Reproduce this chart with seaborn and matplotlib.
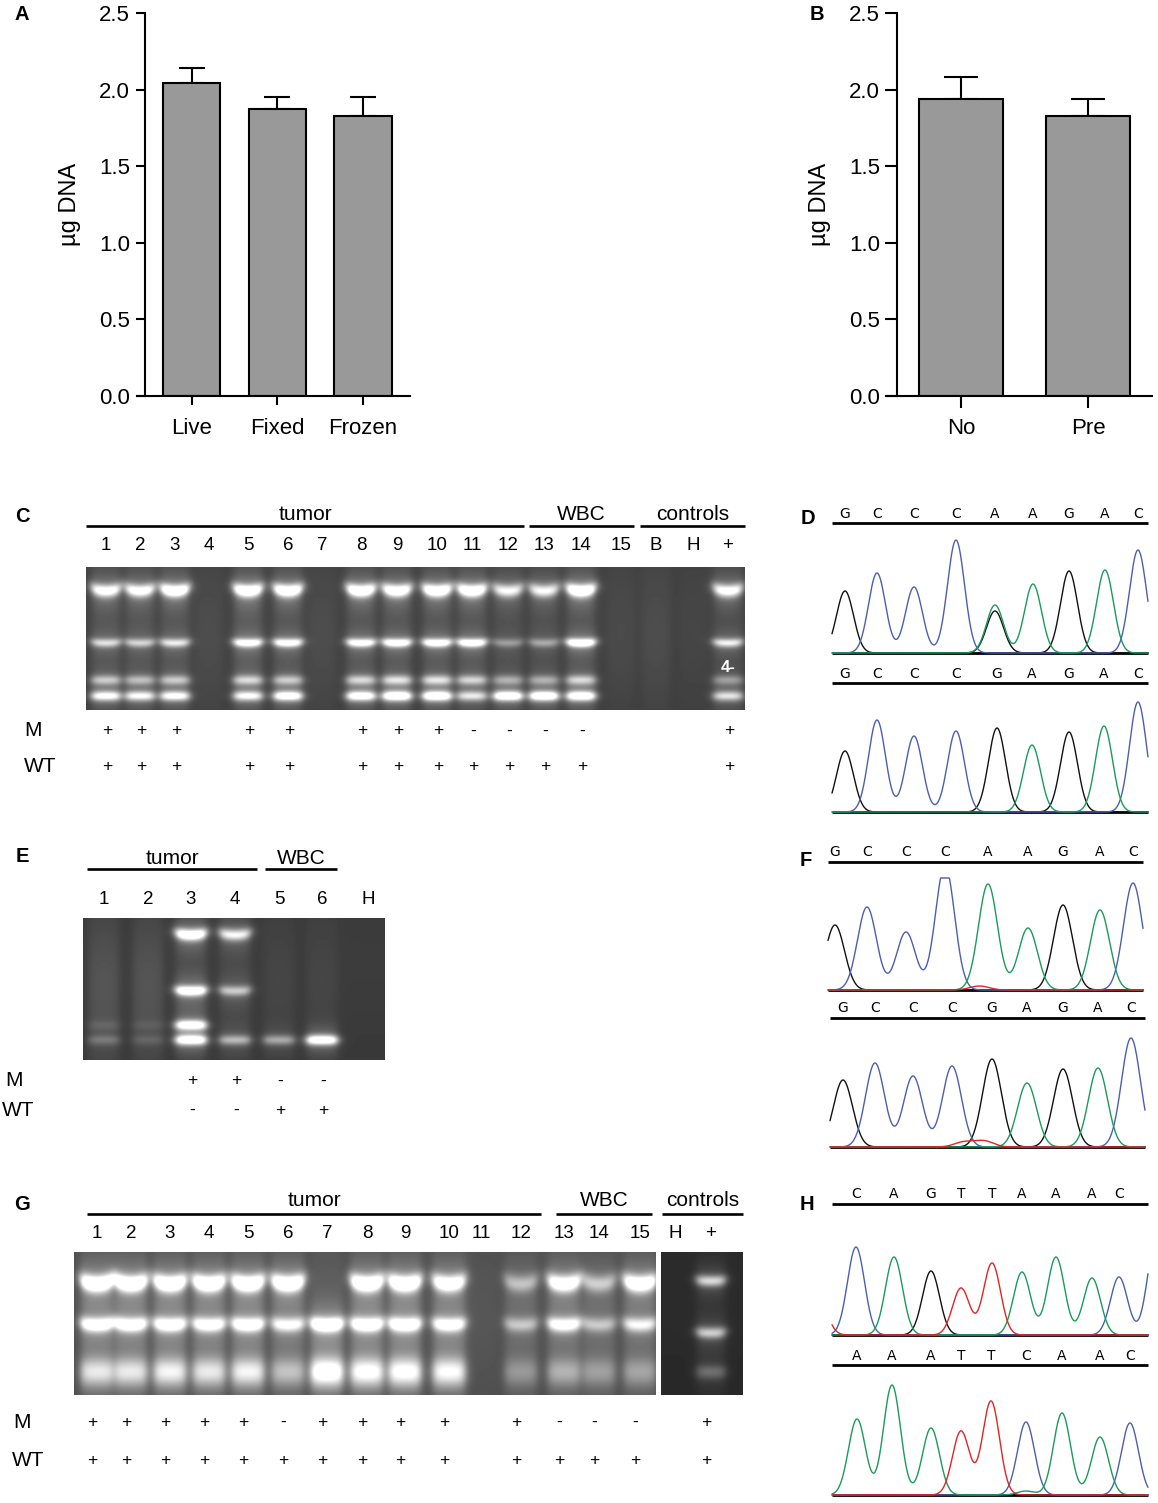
import numpy as np
import matplotlib
matplotlib.use("Agg")
import matplotlib.pyplot as plt
import seaborn as sns

# ---------------- data ----------------
A_groups = ["Live", "Fixed", "Frozen"]
A_mean = [2.04, 1.875, 1.83]
A_sem = [0.10, 0.075, 0.12]

B_groups = ["No", "Pre"]
B_mean = [1.94, 1.83]
B_sem = [0.14, 0.11]

C_lanes = ["1", "2", "3", "4", "5", "6", "7", "8", "9", "10", "11", "12", "13", "14", "15", "B", "H", "+"]
C_top = [0.8, 0.8, 0.95, 0, 0.95, 0.95, 0, 0.95, 0.9, 0.95, 0.95, 0.7, 0.7, 1.0, 0, 0, 0, 0.8]
C_mid = [0.55, 0.5, 0.6, 0, 0.8, 0.8, 0, 0.8, 0.85, 0.85, 0.85, 0.3, 0.35, 0.95, 0, 0, 0, 0.65]
C_low1 = [0.45, 0.4, 0.45, 0, 0.5, 0.45, 0, 0.5, 0.55, 0.55, 0.5, 0.35, 0.35, 0.5, 0, 0, 0, 0.3]
C_low2 = [0.75, 0.7, 0.75, 0, 0.7, 0.85, 0, 0.85, 0.95, 0.95, 0.6, 0.95, 0.95, 0.9, 0, 0, 0, 0.6]
C_smear = [0.08, 0.08, 0.08, 0.05, 0.1, 0.08, 0.05, 0.08, 0.08, 0.08, 0.08, 0.06, 0.06, 0.08, 0.04, 0.05, 0.02, 0.05]
C_M = ["+", "+", "+", "", "+", "+", "", "+", "+", "+", "-", "-", "-", "-", "", "", "", "+"]
C_WT = ["+", "+", "+", "", "+", "+", "", "+", "+", "+", "+", "+", "+", "+", "", "", "", "+"]
C_groups = ["tumor", "WBC", "controls"]

E_lanes = ["1", "2", "3", "4", "5", "6", "H"]
E_top = [0, 0, 0.95, 0.7, 0, 0, 0]
E_mid = [0, 0, 0.95, 0.5, 0, 0, 0]
E_low1 = [0.08, 0.06, 0.85, 0, 0, 0, 0]
E_low2 = [0.18, 0.1, 0.9, 0.45, 0.4, 0.95, 0]
E_smear = [0.1, 0.1, 0.08, 0.06, 0.04, 0.04, 0.0]
E_M = ["", "", "+", "+", "-", "-", ""]
E_WT = ["", "", "-", "-", "+", "+", ""]
E_groups = ["tumor", "WBC"]

G_lanes = ["1", "2", "3", "4", "5", "6", "7", "8", "9", "10", "11", "12", "13", "14", "15", "H", "+"]
G_top = [0.95, 0.95, 0.95, 0.95, 0.95, 0.95, 0, 0.95, 0.95, 0.85, 0, 0.4, 0.85, 0.45, 0.9, 0, 0.65]
G_mid = [0.8, 0.8, 0.8, 0.75, 0.8, 0.65, 0.95, 0.85, 0.85, 0.75, 0, 0.4, 0.75, 0.4, 0.6, 0, 0.6]
G_low = [0.55, 0.55, 0.6, 0.55, 0.6, 0.4, 0.8, 0.7, 0.7, 0.65, 0, 0.25, 0.35, 0.28, 0.3, 0, 0.25]
G_smear = [0.08] * 10 + [0.03] + [0.06] * 4 + [0.0, 0.03]
G_M = ["+", "+", "+", "+", "+", "-", "+", "+", "+", "+", "", "+", "-", "-", "-", "", "+"]
G_WT = ["+", "+", "+", "+", "+", "+", "+", "+", "+", "+", "", "+", "+", "+", "+", "", "+"]
G_groups = ["tumor", "WBC", "controls"]

# chromatograms: (base index, channel, peak height)
D1_seq = "GCCCAAGAC"
D1_peaks = [(0, "G", 62), (1, "C", 80), (2, "C", 66), (3, "C", 113), (4, "A", 48), (4, "G", 42),
            (5, "A", 69), (6, "G", 82), (7, "A", 83), (8, "C", 103)]
D2_seq = "GCCCGAGAC"
D2_peaks = [(0, "G", 61), (1, "C", 92), (2, "C", 76), (3, "C", 81), (4, "G", 84),
            (5, "A", 67), (6, "G", 80), (7, "A", 86), (8, "C", 110)]
F1_seq = "GCCCAAGAC"
F1_peaks = [(0, "G", 65), (1, "C", 83), (2, "C", 58), (3, "C", 125), (4, "A", 106), (5, "A", 62),
            (6, "G", 85), (7, "A", 80), (8, "C", 107), (3.8, "T", 4)]
F2_seq = "GCCCGAGAC"
F2_peaks = [(0, "G", 67), (1, "C", 84), (2, "C", 71), (3, "C", 81), (4, "G", 88), (5, "A", 64),
            (6, "G", 78), (7, "A", 79), (8, "C", 109), (3.3, "T", 5), (3.8, "T", 6)]
H1_seq = "CAGTTAAAC"
H1_peaks = [(-1, "T", 40), (0, "C", 88), (1, "A", 78), (2, "G", 64), (3, "T", 47), (4, "T", 72),
            (5, "A", 63), (6, "A", 78), (7, "A", 57), (8, "C", 58), (9.37, "C", 95)]
H2_seq = "AAATTCAAC"
H2_peaks = [(0, "A", 76), (1, "A", 110), (2, "A", 67), (3, "T", 64), (4, "T", 94), (5, "C", 73),
            (5, "A", 4), (6, "A", 82), (7, "A", 58), (8, "C", 72)]

# ---------------- styling / layout ----------------
W, H = 1158, 1503
sns.set_theme(style="ticks")
plt.rcParams["font.family"] = ["Liberation Sans", "DejaVu Sans"]

fig = plt.figure(figsize=(W / 100, H / 100), dpi=100)


def px_axes(l, t, w, h):
    return fig.add_axes([l / W, 1 - (t + h) / H, w / W, h / H])


ov = px_axes(0, 0, W, H)
ov.patch.set_visible(False)
ov.axis("off")

BAR_GRAY = "#999999"


def bar_panel(ax, groups, means, sems, xlim, spine_x, width, cap, ticklen, xpad):
    sns.barplot(x=groups, y=means, color=BAR_GRAY, saturation=1, width=width,
                edgecolor="black", linewidth=1.5, ax=ax, errorbar=None, zorder=2)
    ax.errorbar(np.arange(len(groups)), means, yerr=[np.zeros(len(sems)), sems], fmt="none",
                ecolor="black", elinewidth=1.5, capsize=cap, capthick=1.5, zorder=1)
    ax.set_xlim(*xlim)
    ax.set_ylim(0, 2.5)
    ax.set_yticks([0, 0.5, 1.0, 1.5, 2.0, 2.5])
    ax.set_yticklabels(["0.0", "0.5", "1.0", "1.5", "2.0", "2.5"])
    ax.spines["top"].set_visible(False)
    ax.spines["right"].set_visible(False)
    ax.spines["left"].set_position(("data", spine_x))
    for s in ("left", "bottom"):
        ax.spines[s].set_linewidth(1.5)
        ax.spines[s].set_color("black")
    ax.tick_params(axis="both", colors="black", width=1.5, length=ticklen, labelsize=16)
    ax.tick_params(axis="y", pad=4)
    ax.tick_params(axis="x", pad=xpad)
    ax.set_xlabel("")
    ax.set_ylabel("µg DNA", fontsize=17, color="black")
    ax.yaxis.set_label_coords(-0.205, 0.5)
    ax.patch.set_visible(False)


axA = px_axes(137, 13, 273, 383)
bar_panel(axA, A_groups, A_mean, A_sem, (-0.64, 2.55), -0.55, 0.67, 9.7, 6.5, 9)
axB = px_axes(886, 13, 266, 383)
bar_panel(axB, B_groups, B_mean, B_sem, (-0.59, 1.50), -0.50, 0.66, 11.9, 8.5, 7.5)


def gel(x0, x1, y0, y1, lane_x, rows, sigmas, curv, intens, smear, bg, hw=14.0):
    w = int(round(x1 - x0)); h = int(round(y1 - y0))
    xs = x0 + np.arange(w) + 0.5
    ys = y0 + np.arange(h) + 0.5
    X, Y = np.meshgrid(xs, ys)
    img = np.full((h, w), bg, dtype=float)
    img += 0.02 * np.exp(-0.5 * ((Y - (y0 + 0.3 * h)) / (0.5 * h)) ** 2)
    ymid = (y0 + y1) / 2
    for i, xc in enumerate(lane_x):
        dx = X - xc
        prof = 1.0 / (1.0 + np.exp((np.abs(dx) - hw) / 2.6))
        for r in range(len(rows)):
            I = intens[r][i]
            if I <= 0:
                continue
            yc = rows[r] + curv[r] * (1 - np.clip((dx / hw) ** 2, 0, 1.5))
            dy = Y - yc
            s = sigmas[r]
            img += I * prof * (0.85 * np.exp(-0.5 * (dy / s) ** 2) + 0.18 * np.exp(-0.5 * (dy / (3 * s)) ** 2))
        img += smear[i] * prof * np.exp(-0.5 * ((Y - ymid) / (h / 2.5)) ** 2)
    ov.imshow(np.clip(img, 0, 1), cmap="gray", vmin=0, vmax=1, extent=(x0, x1, y1, y0),
              aspect="auto", interpolation="bilinear", zorder=1)


def headers(spans, names, line_y, text_y, size=15):
    for (a, b), name in zip(spans, names):
        ov.plot([a, b], [line_y, line_y], color="black", lw=1.9, solid_capstyle="butt", zorder=3)
        ov.text((a + b) / 2, text_y, name, ha="center", va="center", fontsize=size, color="black")


def lane_labels(lane_x, labels, y, size=13.5):
    for x, t in zip(lane_x, labels):
        ov.text(x, y, t, ha="center", va="center", fontsize=size, color="black")


def marks(lane_x, m, wt, ym, ywt, lab_m, lab_wt, dx=0.0):
    ov.text(lab_m[0], ym, "M", ha="center", va="center", fontsize=15, color="black")
    ov.text(lab_wt[0], ywt, "WT", ha="center", va="center", fontsize=15, color="black")
    for x, a, b in zip(lane_x, m, wt):
        if a:
            ov.text(x + dx, ym, a, ha="center", va="center", fontsize=12.5, color="black")
        if b:
            ov.text(x + dx, ywt, b, ha="center", va="center", fontsize=12.5, color="black")


def panel_letter(x, y, t):
    ov.text(x, y, t, ha="center", va="center", fontsize=14.5, fontweight="bold", color="black")


# ---- panel letters
for (x, y, t) in [(22, 15, "A"), (817, 15, "B"), (22, 517, "C"), (808, 518, "D"),
                  (22, 857, "E"), (806, 860, "F"), (22, 1204, "G"), (807, 1205, "H")]:
    panel_letter(x, y, t)

# ---- panel C
C_lane_x = [106, 140, 175, 209, 248, 288, 322, 361, 397, 437, 472, 508, 544, 581, 621, 656, 693, 728]
gel(86, 745, 567, 710, C_lane_x, [588, 642, 680, 696], [4.5, 3.0, 3.4, 3.4], [3, 1, 0, 0],
    [C_top, C_mid, C_low1, C_low2], C_smear, 0.235)
ov.text(728, 668, "4-", color="white", fontsize=12, fontweight="bold", ha="center", va="center", zorder=4)
headers([(86, 524), (529, 634), (640, 745)], C_groups, 526, 514)
lane_labels(C_lane_x, C_lanes, 546)
marks(C_lane_x, C_M, C_WT, 731, 766, (33,), (40,), dx=1)

# ---- panel E
E_lane_x = [104, 148, 191, 235, 279, 322, 368]
gel(83, 385, 918, 1060, E_lane_x, [933, 990, 1025, 1040], [4.0, 3.5, 3.5, 3.5], [2, 1, 0, 0],
    [E_top, E_mid, E_low1, E_low2], E_smear, 0.215, hw=15)
headers([(87, 257), (265, 337)], E_groups, 869, 858)
lane_labels(E_lane_x, E_lanes, 899)
marks(E_lane_x, E_M, E_WT, 1081, 1110, (14,), (18,), dx=1)

# ---- panel G
G_lane_x = [97, 131, 170, 209, 248, 288, 327, 367, 405, 449, 481, 521, 564, 599, 640, 675, 711]
n_main = 15
G_rows = [1280, 1323, 1372]
G_sig = [6.0, 5.0, 10.0]
G_curv = [4, 2, 0]
gel(74, 656, 1252, 1395, G_lane_x[:n_main], G_rows, G_sig, G_curv,
    [G_top[:n_main], G_mid[:n_main], G_low[:n_main]], G_smear[:n_main], 0.29, hw=16)
gel(661, 743, 1252, 1395, G_lane_x[n_main:], [1280, 1332, 1372], [4.0, 4.0, 5.0], [1, 1, 0],
    [G_top[n_main:], G_mid[n_main:], G_low[n_main:]], G_smear[n_main:], 0.15, hw=14)
headers([(87, 541), (556, 652), (662, 743)], G_groups, 1214, 1200)
lane_labels(G_lane_x, G_lanes, 1233)
marks(G_lane_x, G_M, G_WT, 1422, 1460, (22,), (28,), dx=-5)

# ---- chromatograms
CH_COL = {"A": "#1a9a5c", "C": "#4a5fb0", "G": "#111111", "T": "#e02525"}


def idx_to_x(idx, lx):
    lx = np.asarray(lx, dtype=float)
    n = len(lx)
    if idx < 0:
        return lx[0] + idx * (lx[1] - lx[0])
    if idx > n - 1:
        return lx[-1] + (idx - (n - 1)) * (lx[-1] - lx[-2])
    return float(np.interp(idx, np.arange(n), lx))


def chromatogram(seq, peaks, letter_x, x0, x1, line_y, base_y, sigma, clip=None):
    ov.plot([x0, x1], [line_y, line_y], color="black", lw=2.0, solid_capstyle="butt", zorder=3)
    for ch, lx in zip(seq, letter_x):
        ov.text(lx, line_y - 2.5, ch, ha="center", va="bottom", fontsize=10,
                family=["Liberation Sans Narrow", "DejaVu Sans"], color="black")
    xs = np.linspace(x0, x1, 700)
    ov.plot([x0, x1], [base_y, base_y], color="black", lw=2.0, solid_capstyle="butt", zorder=2)
    for ch in ["G", "C", "A", "T"]:
        pk = [(idx_to_x(i, letter_x), h) for (i, c, h) in peaks if c == ch]
        if not pk:
            continue
        ysig = np.zeros_like(xs)
        for xp, hp in pk:
            ysig += hp * np.exp(-0.5 * ((xs - xp) / sigma) ** 2)
        if clip is not None:
            ysig = np.minimum(ysig, clip)
        ov.plot(xs, base_y - ysig, color=CH_COL[ch], lw=1.0, zorder=3)


chromatogram(D1_seq, D1_peaks, [845, 877, 914, 956, 995, 1033, 1069, 1105, 1138], 832, 1148, 523, 653, 8.5)
chromatogram(D2_seq, D2_peaks, [845, 877, 914, 956, 997, 1032, 1069, 1104, 1138], 832, 1148, 683, 812, 8.5)
chromatogram(F1_seq, F1_peaks, [835, 867, 906, 945, 988, 1028, 1063, 1100, 1133], 828, 1143, 862, 990, 9.5, clip=112)
chromatogram(F2_seq, F2_peaks, [843, 875, 913, 952, 992, 1027, 1063, 1098, 1131], 830, 1145, 1018, 1147, 9.5)
chromatogram(H1_seq, H1_peaks, [856, 894, 931, 961, 992, 1022, 1056, 1092, 1119], 832, 1148, 1204, 1335, 8.5)
chromatogram(H2_seq, H2_peaks, [857, 892, 931, 961, 991, 1026, 1062, 1100, 1130], 832, 1148, 1365, 1495, 8.5)

ov.set_xlim(0, W)
ov.set_ylim(H, 0)

fig.savefig("out.png", dpi=100, facecolor="white")
